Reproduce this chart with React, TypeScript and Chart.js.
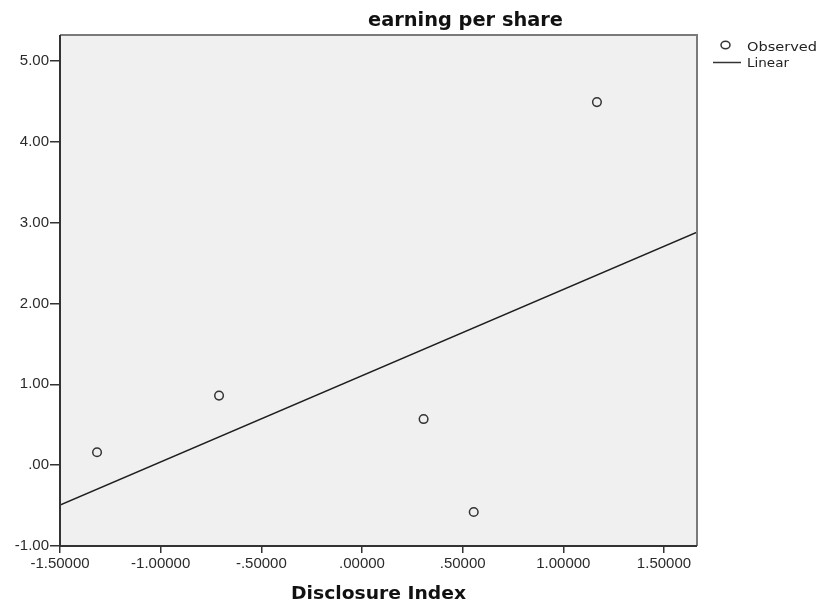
import React, { useEffect, useRef } from "react";
import { Chart, registerables } from "chart.js";

Chart.register(...registerables);

const chartTitle = "earning per share";
const xAxisTitle = "Disclosure Index";
const legendLabels = ["Observed", "Linear"];

const observedX = [-1.316, -0.71, 0.306, 0.555, 1.167];
const observedY = [0.16, 0.86, 0.57, -0.58, 4.49];

const linearX = [-1.5, 1.664];
const linearY = [-0.495, 2.88];

const xMin = -1.5;
const xMax = 1.664;
const xStep = 0.5;
const yMin = -1;
const yMax = 5.32;
const yStep = 1;

function fmt(v: number, digits: number): string {
  const s = v.toFixed(digits);
  if (s.startsWith("-0.")) return "-" + s.slice(2);
  if (s.startsWith("0.")) return s.slice(1);
  return s;
}

function drawStretched(
  ctx: CanvasRenderingContext2D,
  text: string,
  x: number,
  y: number,
  font: string,
  width: number,
  align: "center" | "left"
) {
  ctx.save();
  ctx.font = font;
  const w = ctx.measureText(text).width;
  const s = width / w;
  ctx.translate(x, y);
  ctx.scale(s, 1);
  ctx.textAlign = align;
  ctx.textBaseline = "alphabetic";
  ctx.fillText(text, 0, 0);
  ctx.restore();
}

const decorPlugin = {
  id: "decor",
  beforeDraw(chart: any) {
    const { ctx, chartArea } = chart;
    ctx.save();
    ctx.fillStyle = "#ffffff";
    ctx.fillRect(0, 0, chart.width, chart.height);
    ctx.fillStyle = "#f0f0f0";
    ctx.fillRect(chartArea.left, chartArea.top, chartArea.right - chartArea.left, chartArea.bottom - chartArea.top);
    ctx.restore();
  },
  afterDraw(chart: any) {
    const { ctx, chartArea } = chart;
    ctx.save();
    // top / right frame
    ctx.strokeStyle = "#7a7a7a";
    ctx.lineWidth = 2;
    ctx.beginPath();
    ctx.moveTo(chartArea.left, chartArea.top);
    ctx.lineTo(chartArea.right, chartArea.top);
    ctx.lineTo(chartArea.right, chartArea.bottom);
    ctx.stroke();
    // left / bottom frame
    ctx.strokeStyle = "#333333";
    ctx.lineWidth = 2;
    ctx.beginPath();
    ctx.moveTo(chartArea.left, chartArea.top);
    ctx.lineTo(chartArea.left, chartArea.bottom);
    ctx.lineTo(chartArea.right, chartArea.bottom);
    ctx.stroke();

    ctx.fillStyle = "#111111";
    drawStretched(ctx, chartTitle, 465.5, 26, 'bold 19px "DejaVu Sans"', 195, "center");
    drawStretched(ctx, xAxisTitle, (chartArea.left + chartArea.right) / 2, 599, 'bold 18px "DejaVu Sans"', 175, "center");

    // legend
    ctx.fillStyle = "#222222";
    drawStretched(ctx, legendLabels[0], 747, 51, '12px "DejaVu Sans"', 70, "left");
    drawStretched(ctx, legendLabels[1], 747, 67, '12px "DejaVu Sans"', 42, "left");
    ctx.strokeStyle = "#333333";
    ctx.lineWidth = 1.5;
    ctx.beginPath();
    ctx.ellipse(725.5, 45, 4.5, 3.8, 0, 0, Math.PI * 2);
    ctx.stroke();
    ctx.beginPath();
    ctx.moveTo(713, 62.5);
    ctx.lineTo(741, 62.5);
    ctx.stroke();
    ctx.restore();
  },
};

export default function App() {
  const ref = useRef<HTMLCanvasElement>(null);
  useEffect(() => {
    if (!ref.current) return;
    const chart = new Chart(ref.current, {
      type: "scatter",
      data: {
        datasets: [
          {
            label: legendLabels[0],
            data: observedX.map((x, i) => ({ x, y: observedY[i] })),
            pointStyle: "circle",
            pointRadius: 4.3,
            pointBorderWidth: 1.5,
            borderColor: "#333333",
            backgroundColor: "rgba(0,0,0,0)",
            showLine: false,
          },
          {
            label: legendLabels[1],
            data: linearX.map((x, i) => ({ x, y: linearY[i] })),
            showLine: true,
            pointRadius: 0,
            borderColor: "#1e1e1e",
            borderWidth: 1.5,
            backgroundColor: "rgba(0,0,0,0)",
          },
        ],
      },
      options: {
        animation: false,
        responsive: false,
        devicePixelRatio: 1,
        layout: { padding: { top: 35, right: 122, left: 0, bottom: 0 } },
        plugins: {
          legend: { display: false },
          title: { display: false },
          tooltip: { enabled: false },
        },
        scales: {
          x: {
            type: "linear",
            min: xMin,
            max: xMax,
            afterBuildTicks: (scale: any) => {
              const t = [];
              for (let v = xMin; v <= xMax + 1e-9; v += xStep) t.push({ value: Math.round(v * 1000) / 1000 });
              scale.ticks = t;
            },
            afterFit: (scale: any) => {
              scale.height = 57;
            },
            border: { display: false },
            grid: {
              display: true,
              drawOnChartArea: false,
              drawTicks: true,
              tickLength: 7,
              color: "#333333",
              lineWidth: 1.5,
            },
            ticks: {
              padding: 2,
              color: "#2b2b2b",
              font: { family: '"Liberation Sans", Arial', size: 15 },
              maxRotation: 0,
              autoSkip: false,
              callback: (v: any) => fmt(Number(v), 5),
            },
          },
          y: {
            type: "linear",
            min: yMin,
            max: yMax,
            afterBuildTicks: (scale: any) => {
              const t = [];
              for (let v = yMin; v <= yMax + 1e-9; v += yStep) t.push({ value: v });
              scale.ticks = t;
            },
            afterFit: (scale: any) => {
              scale.width = 60;
            },
            border: { display: false },
            grid: {
              display: true,
              drawOnChartArea: false,
              drawTicks: true,
              tickLength: 10,
              color: "#333333",
              lineWidth: 1.5,
            },
            ticks: {
              padding: 1,
              color: "#2b2b2b",
              font: { family: '"Liberation Sans", Arial', size: 15 },
              autoSkip: false,
              callback: (v: any) => fmt(Number(v), 2),
            },
          },
        },
      },
      plugins: [decorPlugin],
    });
    return () => chart.destroy();
  }, []);
  return (
    <div style={{ position: "absolute", left: 0, top: 0, width: 819, height: 603 }}>
      <canvas ref={ref} width={819} height={603} style={{ display: "block" }} />
    </div>
  );
}
